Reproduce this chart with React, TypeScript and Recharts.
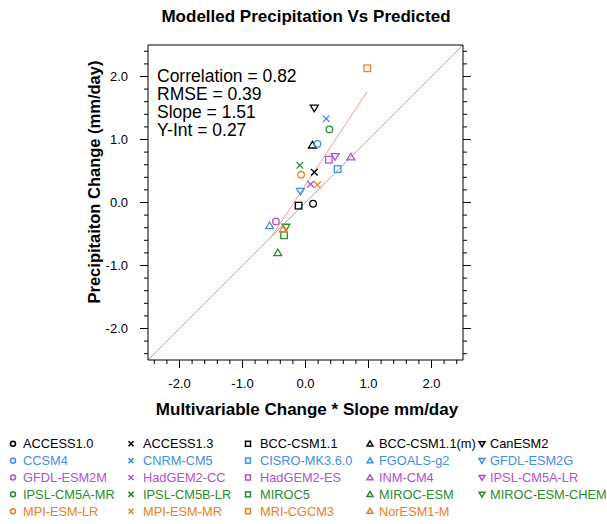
import React from 'react'
import { ScatterChart, Scatter, XAxis, YAxis, ReferenceLine } from 'recharts'

// models, in legend order (row by row)
const models = [
    'ACCESS1.0', 'ACCESS1.3', 'BCC-CSM1.1', 'BCC-CSM1.1(m)', 'CanESM2',
    'CCSM4', 'CNRM-CM5', 'CISRO-MK3.6.0', 'FGOALS-g2', 'GFDL-ESM2G',
    'GFDL-ESM2M', 'HadGEM2-CC', 'HadGEM2-ES', 'INM-CM4', 'IPSL-CM5A-LR',
    'IPSL-CM5A-MR', 'IPSL-CM5B-LR', 'MIROC5', 'MIROC-ESM', 'MIROC-ESM-CHEM',
    'MPI-ESM-LR', 'MPI-ESM-MR', 'MRI-CGCM3', 'NorESM1-M',
]

// multivariable change * slope (mm/day)
const predicted = [
    0.12, 0.14, -0.11, 0.11, 0.14,
    0.19, 0.33, 0.51, -0.57, -0.08,
    -0.47, 0.08, 0.37, 0.72, 0.47,
    0.38, -0.09, -0.34, -0.44, -0.31,
    -0.07, 0.19, 0.98, -0.35,
]

// modelled precipitation change (mm/day)
const modelled = [
    -0.02, 0.48, -0.05, 0.91, 1.50,
    0.93, 1.33, 0.53, -0.37, 0.18,
    -0.30, 0.29, 0.68, 0.72, 0.73,
    1.16, 0.59, -0.52, -0.80, -0.39,
    0.44, 0.28, 2.13, -0.42,
]

const rowColors = ['#000000', '#3f8fe6', '#b152d2', '#2b8c2b', '#f27d22']
const colMarkers = ['circle', 'cross', 'square', 'tri', 'tridown']

// regression fit end points and 1:1 line
const fitX = [-0.56, 0.98]
const fitY = [-0.57, 1.76]
const oneToOne = [-2.5, 2.5]

const stats = ['Correlation = 0.82', 'RMSE = 0.39', 'Slope = 1.51', 'Y-Int = 0.27']

const allTicks = Array.from({ length: 25 }, (_, i) => Math.round((-2.4 + i * 0.2) * 10) / 10)

const FONT = "'Liberation Sans', Arial, Helvetica, sans-serif"

const data = models.map((name, i) => ({
    name,
    x: predicted[i],
    y: modelled[i],
    color: rowColors[Math.floor(i / 5)],
    marker: colMarkers[i % 5],
}))

function Marker({ cx, cy, kind, color, s, w }: any) {
    const common = { fill: 'none', stroke: color, strokeWidth: w }
    switch (kind) {
        case 'circle':
            return <circle cx={cx} cy={cy} r={s} {...common} />
        case 'square':
            return <rect x={cx - s} y={cy - s} width={2 * s} height={2 * s} {...common} />
        case 'cross':
            return <path d={`M${cx - s},${cy - s}L${cx + s},${cy + s}M${cx - s},${cy + s}L${cx + s},${cy - s}`} {...common} />
        case 'tri':
            return <polygon points={`${cx},${cy - s * 1.15} ${cx - s * 1.2},${cy + s * 0.85} ${cx + s * 1.2},${cy + s * 0.85}`} {...common} />
        default:
            return <polygon points={`${cx},${cy + s * 1.15} ${cx - s * 1.2},${cy - s * 0.85} ${cx + s * 1.2},${cy - s * 0.85}`} {...common} />
    }
}

const isMajor = (v: number) => Math.abs(v - Math.round(v)) < 1e-6

function BottomTick({ x, y, payload }: any) {
    const major = isMajor(payload.value)
    return (
        <g>
            <line x1={x} x2={x} y1={y} y2={y + (major ? 8 : 4)} stroke="#000" />
            {major && <text x={x} y={y + 28} textAnchor="middle" fontSize={13} fontFamily={FONT} fill="#000">{payload.value.toFixed(1)}</text>}
        </g>
    )
}

function TopTick({ x, y, payload }: any) {
    const major = isMajor(payload.value)
    return <line x1={x} x2={x} y1={y} y2={y - (major ? 8 : 4)} stroke="#000" />
}

function LeftTick({ x, y, payload }: any) {
    const major = isMajor(payload.value)
    return (
        <g>
            <line x1={x} x2={x - (major ? 8 : 4)} y1={y} y2={y} stroke="#000" />
            {major && <text x={x - 20} y={y + 4.6} textAnchor="end" fontSize={13} fontFamily={FONT} fill="#000">{payload.value.toFixed(1)}</text>}
        </g>
    )
}

function RightTick({ x, y, payload }: any) {
    const major = isMajor(payload.value)
    return <line x1={x} x2={x + (major ? 8 : 4)} y1={y} y2={y} stroke="#000" />
}

const legendMarkX = [13, 131, 248, 370, 482]
const legendTextX = [23, 143, 260, 379, 490]

export default function App() {
    const axisCommon = {
        type: 'number' as const,
        domain: [-2.5, 2.5],
        ticks: allTicks,
        interval: 0,
        tickSize: 0,
        tickMargin: 0,
        tickLine: false,
        axisLine: { stroke: '#000', strokeWidth: 1 },
        allowDataOverflow: true,
    }
    return (
        <div style={{ position: 'absolute', left: 0, top: 0, width: 607, height: 524, background: '#fff', overflow: 'hidden' }}>
            <ScatterChart width={607} height={524} margin={{ top: 44, right: 143, bottom: 163, left: 147 }}>
                <XAxis xAxisId="b" dataKey="x" height={1} {...axisCommon} tick={<BottomTick />} />
                <XAxis xAxisId="t" orientation="top" height={1} {...axisCommon} tick={<TopTick />} />
                <YAxis yAxisId="l" dataKey="y" width={1} {...axisCommon} tick={<LeftTick />} />
                <YAxis yAxisId="r" orientation="right" width={1} {...axisCommon} tick={<RightTick />} />
                <ReferenceLine xAxisId="b" yAxisId="l" ifOverflow="visible"
                    segment={[{ x: oneToOne[0], y: oneToOne[0] }, { x: oneToOne[1], y: oneToOne[1] }]}
                    stroke="#a8a8a8" strokeWidth={1} />
                <ReferenceLine xAxisId="b" yAxisId="l" ifOverflow="visible"
                    segment={[{ x: fitX[0], y: fitY[0] }, { x: fitX[1], y: fitY[1] }]}
                    stroke="#f59a9a" strokeWidth={1} />
                <Scatter xAxisId="b" yAxisId="l" data={data} isAnimationActive={false}
                    shape={(p: any) => <Marker cx={p.cx} cy={p.cy} kind={p.payload.marker} color={p.payload.color} s={3.3} w={1.3} />} />
            </ScatterChart>
            <svg width={607} height={524} style={{ position: 'absolute', left: 0, top: 0, pointerEvents: 'none' }} fontFamily={FONT}>
                <text x={306} y={22} textAnchor="middle" fontSize={17} fontWeight="bold">Modelled Precipitation Vs Predicted</text>
                <text x={307} y={415} textAnchor="middle" fontSize={17} fontWeight="bold">Multivariable Change * Slope mm/day</text>
                <text transform="translate(100,182) rotate(-90)" textAnchor="middle" fontSize={16.5} fontWeight="bold">Precipitaiton Change (mm/day)</text>
                {stats.map((s, i) => (
                    <text key={s} x={157} y={81.5 + i * 18.2} fontSize={17.5}>{s}</text>
                ))}
                {models.map((m, i) => {
                    const row = Math.floor(i / 5)
                    const col = i % 5
                    const base = 448.3 + row * 16.85
                    return (
                        <g key={m}>
                            <Marker cx={legendMarkX[col]} cy={base - 4.5} kind={colMarkers[col]} color={rowColors[row]} s={2.5} w={1.5} />
                            <text x={legendTextX[col]} y={base} fontSize={12.8} fill={rowColors[row]}>{m}</text>
                        </g>
                    )
                })}
            </svg>
        </div>
    )
}
